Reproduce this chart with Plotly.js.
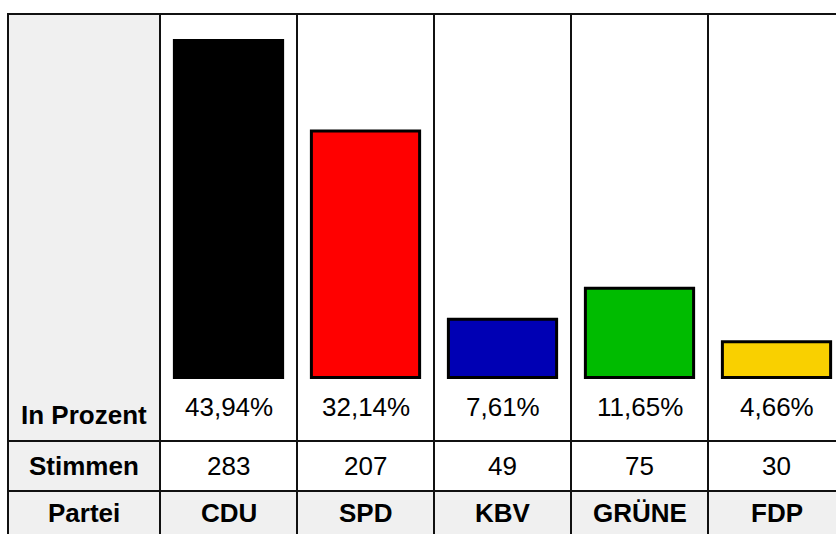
<!DOCTYPE html>
<html>
<head>
<meta charset="utf-8">
<script src="https://cdn.plot.ly/plotly-3.0.1.min.js"></script>
<style>
  html, body { margin: 0; padding: 0; background: #ffffff; }
  #chart { width: 836px; height: 534px; }
</style>
</head>
<body>
<div id="chart"></div>
<script>
// ---- data ----
const categories = ['CDU', 'SPD', 'KBV', 'GRÜNE', 'FDP'];
const percentValues = [43.94, 32.14, 7.61, 11.65, 4.66];
const voteCounts = [283, 207, 49, 75, 30];
const partyColors = ['#000000', '#ff0000', '#0000b4', '#00bb00', '#f9d000'];
const rowLabels = ['In Prozent', 'Stimmen', 'Partei'];

// ---- layout constants (pixels) ----
const W = 836, H = 534;
const TABLE_LEFT = 8, COL0_RIGHT = 160, COL_W = 137;
const ROW_TOP = 14, ROW_PCT_BOTTOM = 441, ROW_VOTES_BOTTOM = 491, ROW_PARTY_BOTTOM = 541;
const ZERO_PX = 377.5, PX_PER_PCT = 7.667;
const GRID_COLOR = '#111111', GRAY_BG = '#f0f0f0';
const FONT = '"Liberation Sans", Arial, sans-serif';

const px = x => x / W;
const py = y => 1 - y / H;

const firstCenter = COL0_RIGHT + COL_W / 2;
const xRange = [-firstCenter / COL_W, (W - firstCenter) / COL_W];
const yRange = [(ZERO_PX - H) / PX_PER_PCT, ZERO_PX / PX_PER_PCT];
const tableRight = COL0_RIGHT + COL_W * categories.length;

const shapes = [];
// gray backgrounds
shapes.push({type: 'rect', xref: 'paper', yref: 'paper', layer: 'below',
  x0: px(TABLE_LEFT), x1: px(COL0_RIGHT), y0: py(ROW_PARTY_BOTTOM), y1: py(ROW_TOP),
  fillcolor: GRAY_BG, line: {width: 0}});
shapes.push({type: 'rect', xref: 'paper', yref: 'paper', layer: 'below',
  x0: px(TABLE_LEFT), x1: px(tableRight), y0: py(ROW_PARTY_BOTTOM), y1: py(ROW_VOTES_BOTTOM),
  fillcolor: GRAY_BG, line: {width: 0}});
// horizontal grid lines
[ROW_TOP, ROW_PCT_BOTTOM, ROW_VOTES_BOTTOM, ROW_PARTY_BOTTOM].forEach(y => {
  shapes.push({type: 'line', xref: 'paper', yref: 'paper', layer: 'below',
    x0: px(TABLE_LEFT - 1), x1: px(tableRight), y0: py(y), y1: py(y),
    line: {color: GRID_COLOR, width: 2}});
});
// vertical grid lines
const vLines = [TABLE_LEFT, COL0_RIGHT];
categories.forEach((c, i) => vLines.push(COL0_RIGHT + COL_W * (i + 1)));
vLines.forEach(x => {
  shapes.push({type: 'line', xref: 'paper', yref: 'paper', layer: 'below',
    x0: px(x), x1: px(x), y0: py(ROW_PARTY_BOTTOM), y1: py(ROW_TOP),
    line: {color: GRID_COLOR, width: 2}});
});

const annotations = [];
const col0Center = (TABLE_LEFT + COL0_RIGHT) / 2;
const rowCenters = [414.5, 466, 513];
rowLabels.forEach((lab, r) => {
  annotations.push({xref: 'paper', yref: 'paper', x: px(col0Center), y: py(rowCenters[r]),
    xanchor: 'center', yanchor: 'middle', showarrow: false, text: '<b>' + lab + '</b>',
    font: {family: FONT, size: 26, color: '#000000'}});
});
const pctCenter = 407;
categories.forEach((c, i) => {
  annotations.push({xref: 'x', yref: 'paper', x: c, y: py(pctCenter),
    xanchor: 'center', yanchor: 'middle', showarrow: false,
    text: percentValues[i].toFixed(2).replace('.', ',') + '%',
    font: {family: FONT, size: 26, color: '#000000'}});
  annotations.push({xref: 'x', yref: 'paper', x: c, y: py(rowCenters[1]),
    xanchor: 'center', yanchor: 'middle', showarrow: false,
    text: String(voteCounts[i]),
    font: {family: FONT, size: 26, color: '#000000'}});
  annotations.push({xref: 'x', yref: 'paper', x: c, y: py(rowCenters[2]),
    xanchor: 'center', yanchor: 'middle', showarrow: false,
    text: '<b>' + c + '</b>',
    font: {family: FONT, size: 26, color: '#000000'}});
});

const trace = {
  type: 'bar',
  x: categories,
  y: percentValues,
  width: 0.79,
  marker: {color: partyColors, line: {color: '#000000', width: 3}},
  hoverinfo: 'none'
};

const layout = {
  width: W, height: H,
  margin: {l: 0, r: 0, t: 0, b: 0, pad: 0},
  paper_bgcolor: '#ffffff',
  plot_bgcolor: 'rgba(0,0,0,0)',
  showlegend: false,
  hovermode: false,
  xaxis: {type: 'category', range: xRange, visible: false, fixedrange: true},
  yaxis: {range: yRange, visible: false, fixedrange: true},
  shapes: shapes,
  annotations: annotations
};

Plotly.newPlot('chart', [trace], layout, {displayModeBar: false, staticPlot: true});
</script>
</body>
</html>
